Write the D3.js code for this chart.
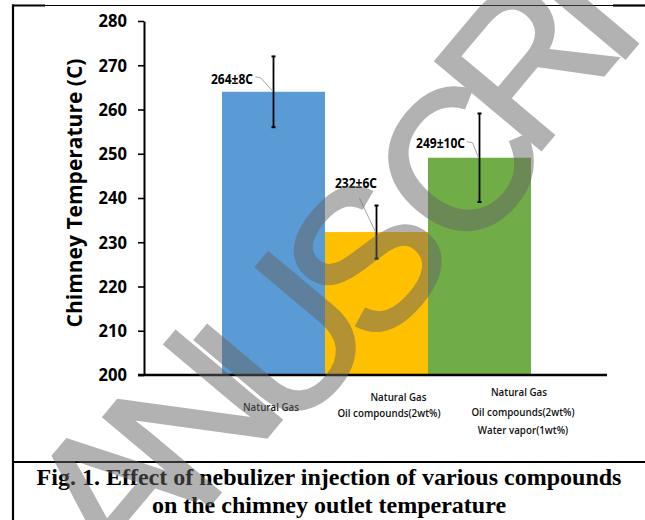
<!DOCTYPE html>
<html>
<head>
<meta charset="utf-8">
<script src="https://cdn.jsdelivr.net/npm/d3@7/dist/d3.min.js"></script>
<style>
  html, body { margin: 0; padding: 0; background: #fff; }
  svg { display: block; }
</style>
</head>
<body>
<svg id="chart" width="645" height="520"></svg>
<script>
// ---------------- data ----------------
const categories = [
  ["Natural Gas"],
  ["Natural Gas", "Oil compounds(2wt%)"],
  ["Natural Gas", "Oil compounds(2wt%)", "Water vapor(1wt%)"]
];
const meanTemps = [264, 232.3, 249.1];
const errorValues = [8, 6, 10];
const valueLabels = ["264±8C", "232±6C", "249±10C"];
const yTicks = [200, 210, 220, 230, 240, 250, 260, 270, 280];
const barColors = ["#5b9bd5", "#ffc000", "#70ad47"];
const yTitle = "Chimney Temperature (C)";
const captionLines = [
  "Fig. 1. Effect of nebulizer injection of various compounds",
  "on the chimney outlet temperature"
];
const watermarkLetters = ["A", "N", "U", "S", "C", "R", "I"];

// ---------------- layout ----------------
const svg = d3.select("#chart");
const ids = categories.map((c, i) => i);
const x = d3.scaleBand().domain(ids).range([222, 531]).padding(0);
const y = d3.scaleLinear().domain([200, 280]).range([375, 21]);

const catLayout = [
  { dx: [-2.5], y: [411] },
  { dx: [22, 12.5], y: [401, 417] },
  { dx: [39.5, 43.5, 43.5], y: [396, 416, 434] }
];
const valLayout = [
  { dx: -20.5, dy: -7.5, leader: [[-18, -15], [-13, -14], [-1, -1]] },
  { dx: 0.5,  dy: -44.5, leader: [[-17, -34], [-1, 0]] },
  { dx: -14.5, dy: -10, leader: [[-13, -16], [-7, -15], [-1, 0]] }
];
// watermark letter centres (decorative overlay)
const wmPos = [[112, 492], [192, 418], [284, 340], [366, 258], [458, 162], [524, 62], [578, 6]];

function condense(sel, factor) {
  sel.each(function () {
    const w = this.getComputedTextLength();
    d3.select(this).attr("textLength", w * factor).attr("lengthAdjust", "spacingAndGlyphs");
  });
}

// ---------------- frame ----------------
const frame = svg.append("g").attr("stroke", "#000").attr("fill", "none");
frame.append("line").attr("x1", 12).attr("x2", 645).attr("y1", 5.5).attr("y2", 5.5).attr("stroke-width", 1.2);
frame.append("line").attr("x1", 12).attr("x2", 45).attr("y1", 5.5).attr("y2", 5.5).attr("stroke-width", 2.2);
frame.append("line").attr("x1", 613).attr("x2", 645).attr("y1", 5.5).attr("y2", 5.5).attr("stroke-width", 2.2);
frame.append("line").attr("x1", 13).attr("x2", 13).attr("y1", 4.5).attr("y2", 520).attr("stroke-width", 2.2);
frame.append("line").attr("x1", 12).attr("x2", 645).attr("y1", 462).attr("y2", 462).attr("stroke-width", 2.2);

// ---------------- bars ----------------
svg.append("g").selectAll("rect").data(ids).join("rect")
  .attr("x", i => x(i))
  .attr("width", x.bandwidth())
  .attr("y", i => y(meanTemps[i]))
  .attr("height", i => y(200) - y(meanTemps[i]))
  .attr("fill", i => barColors[i]);

// ---------------- axes ----------------
const yAxis = svg.append("g")
  .attr("transform", "translate(144,0)")
  .call(d3.axisLeft(y).tickValues(yTicks).tickSize(6).tickSizeOuter(0).tickPadding(11));
yAxis.select(".domain").attr("stroke", "#000").attr("stroke-width", 2);
yAxis.selectAll(".tick line").attr("stroke", "#000").attr("stroke-width", 1.6);
yAxis.selectAll(".tick text")
  .attr("font-family", "'Open Sans', sans-serif")
  .attr("font-weight", 700)
  .attr("font-size", 18)
  .attr("fill", "#000")
  .call(condense, 0.92);

svg.append("line")
  .attr("x1", 138).attr("x2", 607)
  .attr("y1", y(200)).attr("y2", y(200))
  .attr("stroke", "#000").attr("stroke-width", 2.4);

svg.append("text")
  .attr("transform", `translate(82,${193}) rotate(-90)`)
  .attr("text-anchor", "middle")
  .attr("font-family", "'Open Sans', sans-serif")
  .attr("font-weight", 700)
  .attr("font-size", 21)
  .attr("fill", "#000")
  .text(yTitle);

// ---------------- error bars ----------------
const eb = svg.append("g").attr("stroke", "#000");
ids.forEach(i => {
  const cx = x(i) + x.bandwidth() / 2;
  const top = y(meanTemps[i] + errorValues[i]);
  const bot = y(meanTemps[i] - errorValues[i]);
  eb.append("line").attr("x1", cx).attr("x2", cx).attr("y1", top).attr("y2", bot).attr("stroke-width", 1.8);
  [top, bot].forEach(v => eb.append("line")
    .attr("x1", cx - 2).attr("x2", cx + 2).attr("y1", v).attr("y2", v).attr("stroke-width", 2));
});

// ---------------- value labels ----------------
ids.forEach(i => {
  const cx = x(i) + x.bandwidth() / 2;
  const ty = y(meanTemps[i]);
  const L = valLayout[i];
  const t = svg.append("text")
    .attr("x", cx + L.dx).attr("y", ty + L.dy)
    .attr("text-anchor", "end")
    .attr("font-family", "'Open Sans', sans-serif")
    .attr("font-weight", 700)
    .attr("font-size", 14)
    .attr("fill", "#000")
    .text(valueLabels[i]);
  condense(t, 0.86);
  svg.append("polyline")
    .attr("points", L.leader.map(p => [cx + p[0], ty + p[1]].join(",")).join(" "))
    .attr("fill", "none").attr("stroke", "#a6a6a6").attr("stroke-width", 1);
});

// ---------------- category labels ----------------
ids.forEach(i => {
  const cx = x(i) + x.bandwidth() / 2;
  categories[i].forEach((line, k) => {
    const t = svg.append("text")
      .attr("x", cx + catLayout[i].dx[k])
      .attr("y", catLayout[i].y[k])
      .attr("text-anchor", "middle")
      .attr("font-family", "'Open Sans', sans-serif")
      .attr("font-weight", 600)
      .attr("font-size", 11.5)
      .attr("fill", "#111")
      .text(line);
    condense(t, 0.85);
  });
});

// ---------------- caption ----------------
captionLines.forEach((line, k) => {
  svg.append("text")
    .attr("x", 329).attr("y", 485 + k * 28)
    .attr("text-anchor", "middle")
    .attr("font-family", "'Liberation Serif', 'Times New Roman', serif")
    .attr("font-weight", 700)
    .attr("font-size", 24)
    .attr("fill", "#000")
    .text(line);
});

// ---------------- watermark ----------------
const wm = svg.append("g").attr("opacity", 0.5);
watermarkLetters.forEach((ch, i) => {
  wm.append("text")
    .attr("transform", `translate(${wmPos[i][0]},${wmPos[i][1]}) rotate(-50)`)
    .attr("text-anchor", "middle")
    .attr("dominant-baseline", "central")
    .attr("font-family", "'Liberation Sans', Arial, sans-serif")
    .attr("font-size", 200)
    .attr("fill", "#646464")
    .attr("stroke", "#646464")
    .attr("stroke-width", 3)
    .text(ch);
});
</script>
</body>
</html>
